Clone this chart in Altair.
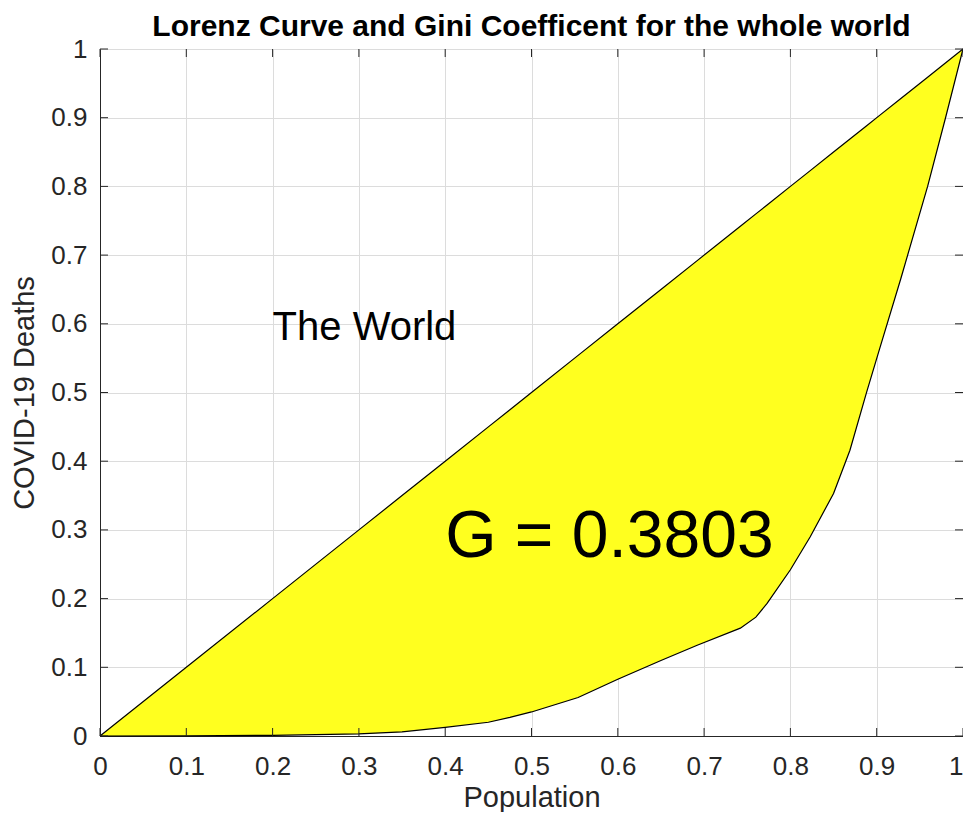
import altair as alt
import pandas as pd

# Lorenz curve
population = [0.0, 0.1, 0.2, 0.3, 0.35, 0.4, 0.45, 0.475, 0.5, 0.554, 0.6, 0.65,
              0.692, 0.742, 0.76, 0.773, 0.8, 0.823, 0.85, 0.869, 0.888, 0.903,
              0.928, 0.959, 0.98, 1.0]
deaths = [0.0, 0.0003, 0.001, 0.003, 0.006, 0.0126, 0.02, 0.027, 0.035, 0.056, 0.0825, 0.11,
          0.132, 0.157, 0.173, 0.193, 0.242, 0.29, 0.353, 0.416, 0.499, 0.562,
          0.666, 0.80, 0.901, 1.0]
equality = population  # line of perfect equality

tick_values = [0.0, 0.1, 0.2, 0.3, 0.4, 0.5, 0.6, 0.7, 0.8, 0.9, 1.0]

title_text = ["Lorenz Curve and Gini Coefficent for the whole world"]

label_text = ["The World"]
label_x = [0.2]
label_y = [0.576]

gini_text = ["G = 0.3803"]
gini_x = [0.4]
gini_y = [0.261]

W, H = 863, 687
FONT = "Liberation Sans"
AX = "#262626"

df = pd.DataFrame({"p": population, "d": deaths, "e": equality})
ticks = pd.DataFrame({"t": tick_values})

xs = alt.Scale(domain=[0, 1], nice=False)
ys = alt.Scale(domain=[0, 1], nice=False)

xaxis = alt.Axis(values=tick_values, format="~g", grid=True, gridColor="#dcdcdc",
                 ticks=False, labelPadding=17, labelFontSize=26, labelColor=AX,
                 labelFont=FONT, labelFlush=False, labelOverlap=False,
                 labelAlign={"condition": {"test": "datum.value >= 1", "value": "right"},
                             "value": "center"},
                 domainColor=AX, title="Population", titleFont=FONT,
                 titleFontSize=29, titleFontWeight="normal", titleColor=AX,
                 titleBaseline="alphabetic", titleY=70)
yaxis = alt.Axis(values=tick_values, format="~g", grid=True, gridColor="#dcdcdc",
                 ticks=False, labelPadding=13, labelFontSize=26, labelColor=AX,
                 labelFont=FONT, labelFlush=False, labelOverlap=False,
                 domainColor=AX, title="COVID-19 Deaths", titleFont=FONT,
                 titleFontSize=29, titleFontWeight="normal", titleColor=AX,
                 titleBaseline="alphabetic", titleX=-67)

base = alt.Chart(df)

area = base.mark_area(color="#ffff1f", opacity=1).encode(
    x=alt.X("p:Q", scale=xs, axis=xaxis),
    y=alt.Y("d:Q", scale=ys, axis=yaxis),
    y2="e:Q",
)
curve = base.mark_line(color="black", strokeWidth=1.2).encode(
    x=alt.X("p:Q", scale=xs), y=alt.Y("d:Q", scale=ys))
diag = base.mark_line(color="black", strokeWidth=1.2).encode(
    x=alt.X("p:Q", scale=xs), y=alt.Y("e:Q", scale=ys))

tk = alt.Chart(ticks)
TL = 8
t_bottom = tk.mark_rule(color=AX, strokeWidth=1).encode(
    x=alt.X("t:Q", scale=xs), y=alt.value(H), y2=alt.value(H - TL))
t_top = tk.mark_rule(color=AX, strokeWidth=1).encode(
    x=alt.X("t:Q", scale=xs), y=alt.value(0), y2=alt.value(TL))
t_left = tk.mark_rule(color=AX, strokeWidth=1).encode(
    y=alt.Y("t:Q", scale=ys), x=alt.value(0), x2=alt.value(TL))
t_right = tk.mark_rule(color=AX, strokeWidth=1).encode(
    y=alt.Y("t:Q", scale=ys), x=alt.value(W - TL), x2=alt.value(W))

world = alt.Chart(pd.DataFrame({"x": label_x, "y": label_y, "t": label_text})).mark_text(
    font=FONT, fontSize=40, color="black", align="left", baseline="alphabetic"
).encode(x=alt.X("x:Q", scale=xs), y=alt.Y("y:Q", scale=ys), text="t:N")

gini = alt.Chart(pd.DataFrame({"x": gini_x, "y": gini_y, "t": gini_text})).mark_text(
    font=FONT, fontSize=66, color="black", align="left", baseline="alphabetic"
).encode(x=alt.X("x:Q", scale=xs), y=alt.Y("y:Q", scale=ys), text="t:N")

title = alt.Chart(pd.DataFrame({"t": title_text})).mark_text(
    font=FONT, fontSize=30, fontWeight="bold", color="black", align="center",
    baseline="alphabetic"
).encode(x=alt.value(W / 2), y=alt.value(-13), text="t:N")

chart = alt.layer(area, curve, diag, t_bottom, t_top, t_left, t_right, world, gini, title).properties(
    width=W, height=H,
    autosize=alt.AutoSizeParams(type="none"),
    padding={"left": 92, "top": 41, "right": 0, "bottom": 76},
).configure_view(stroke=AX, strokeWidth=1).configure(background="white")

chart.save("out.html", embed_options={"renderer": "svg", "actions": False})
